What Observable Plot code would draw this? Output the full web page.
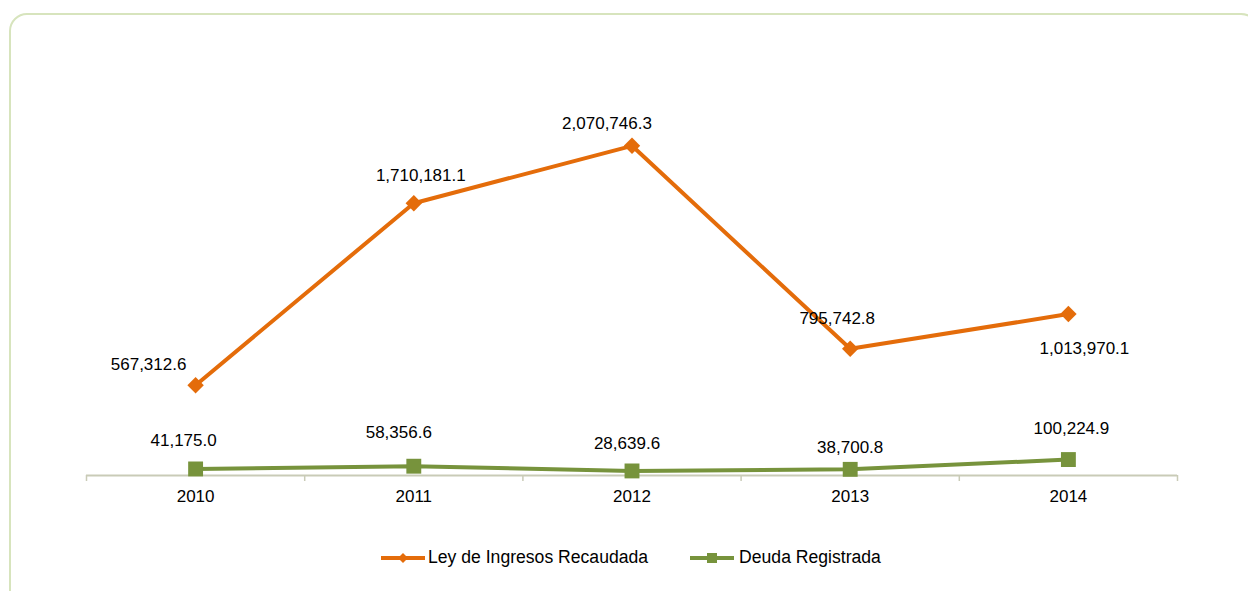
<!DOCTYPE html>
<html>
<head>
<meta charset="utf-8">
<script src="https://cdn.jsdelivr.net/npm/d3@7"></script>
<script src="https://cdn.jsdelivr.net/npm/@observablehq/plot@0.6"></script>
<style>
  html, body { margin: 0; padding: 0; background: #fff; }
  #wrap { position: relative; width: 1248px; height: 591px; overflow: hidden; font-family: "Liberation Sans", Arial, sans-serif; }
  #frame { position: absolute; left: 9px; top: 13px; width: 1250px; height: 620px; border: 2px solid #d7e4bd; border-radius: 18px; box-sizing: border-box; }
  #chart { position: absolute; left: 0; top: 0; }
  #legend { position: absolute; left: 381px; top: 547px; display: flex; align-items: center; font-size: 17.6px; color: #000; }
  .item { display: flex; align-items: center; }
  .item svg { display: block; }
</style>
</head>
<body>
<div id="wrap">
  <div id="frame"></div>
  <div id="chart"></div>
  <div id="legend"></div>
</div>
<script>
const years = ["2010", "2011", "2012", "2013", "2014"];
const ingresos = [567312.6, 1710181.1, 2070746.3, 795742.8, 1013970.1];
const deuda = [41175.0, 58356.6, 28639.6, 38700.8, 100224.9];
const seriesNames = ["Ley de Ingresos Recaudada", "Deuda Registrada"];
const seriesColors = ["#E46C0A", "#77933C"];

// label offsets (styling only)
const ingresosLabelOffsets = [[-47, -21], [7, -28], [-25, -22], [-13, -30], [16, 34]];
const deudaLabelOffsets = [[-12, -28], [-15, -34], [-5, -27], [0, -22], [3, -31]];

const fmt = d3.format(",.1f");
const orangeData = ingresos.map((v, i) => ({i, v}));
const greenData = deuda.map((v, i) => ({i, v}));

const font = "'Liberation Sans', Arial, sans-serif";
const axisColor = "#c9cbb7";

const labelMarks = (data, offsets) => data.map((d, k) =>
  Plot.text([d], {
    x: "i", y: "v", text: e => fmt(e.v),
    dx: offsets[k][0], dy: offsets[k][1],
    fontSize: 17, fill: "#000", textAnchor: "middle", lineAnchor: "middle"
  })
);

const chart = Plot.plot({
  width: 1248,
  height: 520,
  marginLeft: 86,
  marginRight: 71,
  marginTop: 77,
  marginBottom: 45,
  style: { fontFamily: font, background: "transparent", overflow: "visible" },
  x: { type: "linear", domain: [-0.5, 4.5] },
  y: { domain: [0, 2500000], axis: null },
  marks: [
    Plot.axisX({ ticks: [-0.5, 0.5, 1.5, 2.5, 3.5, 4.5], tickSize: 6, tickFormat: () => "", label: null, stroke: axisColor, strokeWidth: 1.5 }),
    Plot.axisX({ ticks: [0, 1, 2, 3, 4], tickSize: 0, tickPadding: 14, tickFormat: i => years[i], label: null, fontSize: 17, fill: "#000" }),
    Plot.ruleY([0], { stroke: axisColor, strokeWidth: 2 }),
    Plot.line(greenData, { x: "i", y: "v", stroke: seriesColors[1], strokeWidth: 4 }),
    Plot.dot(greenData, { x: "i", y: "v", symbol: "square", r: 8.4, fill: seriesColors[1] }),
    Plot.line(orangeData, { x: "i", y: "v", stroke: seriesColors[0], strokeWidth: 4 }),
    Plot.dot(orangeData, { x: "i", y: "v", symbol: "diamond2", r: 7.4, fill: seriesColors[0] }),
    ...labelMarks(orangeData, ingresosLabelOffsets),
    ...labelMarks(greenData, deudaLabelOffsets)
  ]
});
document.getElementById("chart").appendChild(chart);

// legend
const legend = document.getElementById("legend");
const swatch = (color, kind) => {
  const marker = kind === "diamond"
    ? `<path d="M22,3 L27,8 L22,13 L17,8 Z" fill="${color}"/>`
    : `<rect x="17" y="3" width="10" height="10" fill="${color}"/>`;
  return `<svg width="44" height="16" viewBox="0 0 44 16"><line x1="0" y1="8" x2="44" y2="8" stroke="${color}" stroke-width="4"/>${marker}</svg>`;
};
legend.innerHTML =
  `<div class="item">${swatch(seriesColors[0], "diamond")}<span style="margin-left:3px">${seriesNames[0]}</span></div>` +
  `<div class="item" style="margin-left:42px">${swatch(seriesColors[1], "square")}<span style="margin-left:5px">${seriesNames[1]}</span></div>`;
</script>
</body>
</html>
